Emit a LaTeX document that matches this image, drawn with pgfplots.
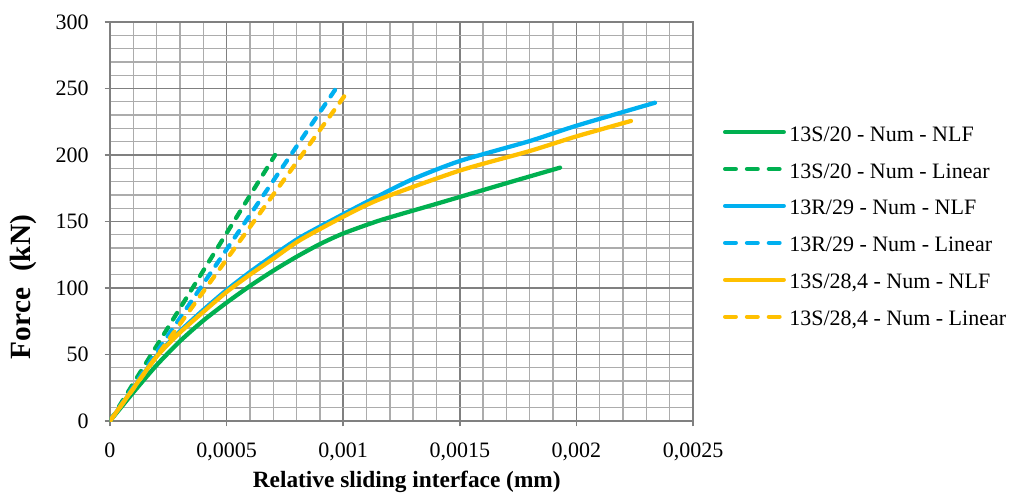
\documentclass[border=0pt]{standalone}
\usepackage{pgfplots}
\pgfplotsset{compat=1.18}
\usepackage{fontspec}
\setmainfont{Liberation Serif}
\definecolor{cgreen}{RGB}{0,176,80}
\definecolor{cblue}{RGB}{0,176,240}
\definecolor{cyellow}{RGB}{255,192,0}
\definecolor{majgrid}{RGB}{128,128,128}
\definecolor{mingrid}{RGB}{172,172,172}
\pgfplotsset{
  solidleg/.style={legend image code/.code={\draw[##1] (0pt,0.3em) -- (44pt,0.3em);}},
  dashleg/.style={legend image code/.code={\draw[##1, dash pattern=on 8pt off 8.4pt] (0pt,0.3em) -- (44pt,0.3em);}},
}
\begin{document}
\begin{tikzpicture}
\begin{axis}[
  scale only axis,
  width=437.25pt, height=299.25pt,
  xmin=0, xmax=0.0025, ymin=0, ymax=300,
  xtick={0,0.0005,0.001,0.0015,0.002,0.0025},
  xticklabels={0,{0,0005},{0,001},{0,0015},{0,002},{0,0025}},
  ytick={0,50,100,150,200,250,300},
  scaled x ticks=false,
  minor x tick num=4, minor y tick num=4,
  grid=both,
  major grid style={color=majgrid, line width=1.2pt},
  minor grid style={color=mingrid, line width=1pt},
  axis line style={color=majgrid, line width=1.2pt},
  tick align=outside,
  major tick length=4pt, minor tick length=0pt,
  tick style={color=majgrid, line width=1.2pt},
  xtick pos=bottom, ytick pos=left,
  /pgf/number format/assume math mode=true,
  tick label style={font=\fontsize{16.5}{19.8}\selectfont},
  xticklabel style={yshift=-8.5pt},
  yticklabel style={xshift=-8.5pt},
  xlabel={\textbf{Relative sliding interface (mm)}},
  xlabel style={font=\fontsize{17.5}{21}\selectfont, at={(axis description cs:0.509,0)}, anchor=base, yshift=-50pt},
  ylabel={\textbf{Force\hspace{0.55em}(kN)}},
  ylabel style={font=\fontsize{22}{26}\selectfont, at={(axis description cs:-0.149,0.336)}, anchor=center},
  legend cell align=left,
  legend style={at={(axis description cs:1.051,0.739)}, anchor=north west, draw=none, fill=none,
    inner sep=0pt, row sep=13.2pt, column sep=2.5pt,
    font=\fontsize{16.5}{19.8}\selectfont,
    nodes={inner sep=0pt, text height=11pt, text depth=3.5pt}},
  solidleg,
  every axis plot/.append style={line width=3.2pt, line cap=round, line join=round},
]
\addplot[cgreen, smooth, tension=0.4] coordinates {
(0,0) (0.0001,21.5) (0.0002,42) (0.0003,60) (0.0004,75.5) (0.0005,89) (0.0006,101.5)
(0.0007,113) (0.0008,123.5) (0.0009,133) (0.001,141) (0.00116,151) (0.0014,163.3)
(0.0017,178.8) (0.00193,190.5)};
\addlegendentry{13S/20 - Num - NLF}
\addplot[cgreen, dash pattern=on 5.8pt off 7pt, dashleg]
  coordinates {(0,0) (0.000708,200)};
\addlegendentry{13S/20 - Num - Linear}
\addplot[cblue, smooth, tension=0.4] coordinates {
(0,0) (0.0001,24.5) (0.0002,49) (0.0003,67.5) (0.0004,83.5) (0.0005,98.5) (0.0006,112)
(0.0007,124.5) (0.000815,138) (0.001,155.5) (0.00116,170) (0.0013,182) (0.0015,195.5)
(0.0018,210.5) (0.002,222) (0.002337,239.3)};
\addlegendentry{13R/29 - Num - NLF}
\addplot[cblue, dash pattern=on 5.8pt off 7pt, dashleg]
  coordinates {(0,0) (0.000969,250)};
\addlegendentry{13R/29 - Num - Linear}
\addplot[cyellow, smooth, tension=0.4] coordinates {
(0,0) (0.0001,24.5) (0.0002,48.5) (0.0003,66.5) (0.0004,82) (0.0005,97) (0.0006,110)
(0.0007,122) (0.000815,136) (0.001,153.6) (0.00116,167) (0.0015,188.3) (0.0018,203)
(0.002,214) (0.002234,225.6)};
\addlegendentry{13S/28,4 - Num - NLF}
\addplot[cyellow, dash pattern=on 5.8pt off 7pt, dashleg]
  coordinates {(0,0) (0.001008,245)};
\addlegendentry{13S/28,4 - Num - Linear}
\end{axis}
\pgfresetboundingbox
\useasboundingbox (-82.5pt,-54pt) rectangle (679.5pt,315.75pt);
\end{tikzpicture}
\end{document}
